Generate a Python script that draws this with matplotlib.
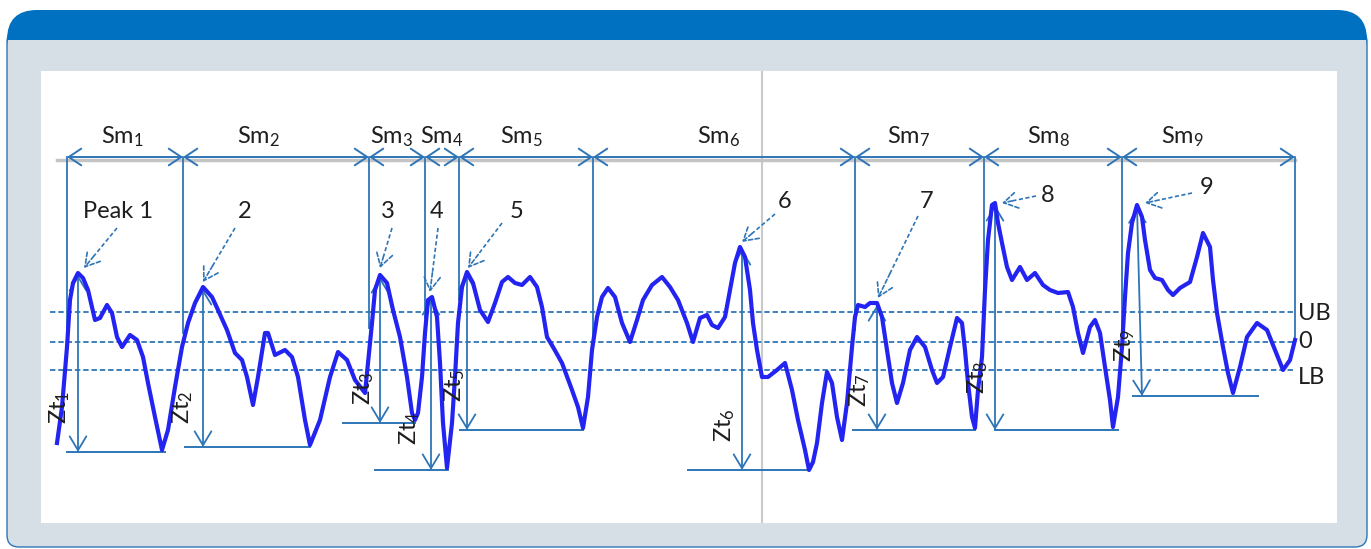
import matplotlib.pyplot as plt
from matplotlib.patches import FancyBboxPatch, Rectangle

plt.rcParams['font.family'] = ['Lato', 'DejaVu Sans']
plt.rcParams['mathtext.default'] = 'regular'

# ---------------------------------------------------------------
# DATA (units = picture position / depth)
# ---------------------------------------------------------------
profile_x = [57, 62, 67, 70, 73, 78, 83, 88, 95, 100, 107, 112, 117, 122, 130, 137,
             143, 148, 155, 162, 168, 175, 182, 188, 195, 203, 212, 218, 227, 235,
             242, 247, 253, 258, 265, 268, 275, 285, 292, 298, 305, 310, 320, 330,
             338, 347, 355, 365, 368, 372, 375, 380, 387, 393, 400, 407, 412, 415,
             418, 422, 425, 428, 432, 437, 440, 443, 447, 449, 452, 455, 458, 462,
             467, 473, 480, 488, 495, 502, 508, 515, 522, 530, 537, 542, 547, 553,
             562, 572, 578, 583, 588, 592, 597, 602, 608, 615, 622, 630, 637, 643,
             652, 662, 670, 678, 687, 693, 700, 707, 712, 718, 725, 730, 735, 740,
             745, 750, 753, 757, 762, 768, 777, 785, 792, 798, 805, 809, 813, 817,
             822, 827, 832, 837, 842, 847, 852, 855, 858, 865, 870, 877, 882, 887,
             892, 897, 903, 910, 917, 925, 932, 937, 943, 950, 957, 962, 965, 968,
             972, 975, 978, 982, 985, 988, 992, 995, 998, 1002, 1007, 1012, 1020,
             1027, 1035, 1043, 1050, 1058, 1068, 1073, 1078, 1083, 1090, 1095,
             1100, 1105, 1110, 1113, 1118, 1122, 1125, 1128, 1132, 1137, 1142,
             1145, 1150, 1155, 1162, 1168, 1173, 1180, 1190, 1197, 1203, 1210,
             1213, 1217, 1223, 1228, 1233, 1240, 1247, 1257, 1267, 1275, 1283,
             1290, 1295]
profile_y = [443, 407, 347, 300, 283, 273, 278, 290, 320, 318, 305, 313, 337, 347, 335, 340,
             357, 383, 417, 450, 430, 387, 347, 323, 303, 287, 297, 310, 330, 353,
             360, 377, 405, 377, 333, 333, 355, 350, 357, 377, 420, 445, 420, 377,
             352, 360, 380, 393, 363, 323, 290, 275, 283, 310, 337, 377, 413, 420,
             413, 377, 333, 300, 297, 317, 363, 423, 468, 450, 423, 377, 323, 287,
             272, 283, 310, 322, 303, 282, 277, 283, 285, 277, 287, 307, 337, 347,
             363, 390, 407, 428, 397, 350, 317, 297, 288, 297, 323, 342, 320, 300,
             285, 277, 287, 300, 323, 342, 318, 315, 325, 328, 317, 290, 263, 247,
             257, 290, 323, 350, 377, 377, 370, 363, 390, 420, 450, 470, 462, 443,
             403, 372, 383, 417, 440, 403, 347, 317, 305, 307, 303, 303, 317, 350,
             383, 403, 383, 350, 337, 347, 370, 383, 377, 347, 318, 323, 350, 383,
             417, 428, 390, 357, 290, 240, 205, 203, 223, 243, 267, 280, 267,
             280, 273, 285, 290, 293, 292, 307, 333, 353, 327, 320,
             333, 367, 400, 427, 397, 347, 297, 253, 223, 205, 217,
             240, 270, 278, 280, 290, 295, 288, 282, 257, 233, 247,
             280, 313, 347, 373, 393, 367, 337, 323, 330, 350, 370,
             360, 340]

band_levels = [312, 342, 370]
band_names = ["UB", "0", "LB"]
band_label_y = [313, 342, 378]

sm_bounds = [67, 183, 369, 425, 459, 593, 855, 984, 1122, 1295]
sm_bound_bottom = [343, 333, 328, 318, 300, 345, 330, 320, 337, 338]
sm_label_x = [122, 259, 392, 442, 521, 719, 909, 1049, 1182]

peak_names = ["Peak 1", "2", "3", "4", "5", "6", "7", "8", "9"]
peak_label_x = [118, 245, 388, 437, 517, 785, 927, 1048, 1207]
peak_label_y = [212, 212, 212, 212, 212, 201, 201, 195, 188]
peak_from_x = [117, 235, 392, 438, 502, 775, 918, 1036, 1192]
peak_from_y = [228, 228, 228, 228, 223, 214, 216, 196, 193]
peak_tip_x = [84, 203, 380, 430, 468, 742, 878, 1002, 1145]
peak_tip_y = [268, 282, 268, 292, 268, 242, 298, 203, 203]

zt_top_x = [78, 203, 380, 431, 467, 742, 877, 995, 1137]
zt_top_y = [275, 289, 277, 299, 274, 249, 305, 205, 207]
zt_bot_x = [78, 203, 380, 431, 467, 742, 877, 995, 1142]
zt_bot_y = [452, 447, 423, 470, 430, 470, 430, 430, 396]
zt_base_left = [67, 185, 343, 375, 460, 688, 853, 995, 1133]
zt_base_right = [165, 310, 415, 448, 583, 808, 975, 1118, 1258]
zt_label_x = [60, 183, 364, 410, 455, 725, 860, 978, 1125]
zt_label_y = [407, 407, 388, 428, 385, 425, 390, 377, 345]

# ---------------------------------------------------------------
# STYLE
# ---------------------------------------------------------------
HEADER = "#0070C0"
PANEL = "#D6DEE6"
ANNOT = "#2E75B6"
CURVE = "#2323F2"
TEXT = "#1E1E1E"
FS = 17

fig = plt.figure(figsize=(13.71, 5.49), dpi=100)

# frame (panel with blue header)
bg = fig.add_axes([0, 0, 1, 1])
bg.set_xlim(0, 1371)
bg.set_ylim(549, 0)
bg.axis("off")
bg.add_patch(FancyBboxPatch((7, 30), 1360, 517, boxstyle="round,pad=0,rounding_size=12",
                            facecolor=PANEL, edgecolor=ANNOT, lw=1.0, zorder=1))
bg.add_patch(FancyBboxPatch((7, 10), 1360, 55, boxstyle="round,pad=0,rounding_size=30",
                            facecolor=HEADER, edgecolor="none", zorder=2))
bg.add_patch(Rectangle((7.6, 40), 1358.8, 30, facecolor=PANEL, edgecolor="none", zorder=3))

# plot area
W0, W1, H0, H1 = 41, 1337, 71, 523
ax = fig.add_axes([W0 / 1371, 1 - H1 / 549, (W1 - W0) / 1371, (H1 - H0) / 549])
ax.set_xlim(W0, W1)
ax.set_ylim(H1, H0)
ax.set_facecolor("white")
ax.set_xticks([])
ax.set_yticks([])
for s in ax.spines.values():
    s.set_visible(False)

# grey centre line
ax.axvline(762, color="#C9C9C9", lw=1.5, zorder=1)

# band lines
for lvl, name, ly in zip(band_levels, band_names, band_label_y):
    ax.plot([50, 1295], [lvl, lvl], color=ANNOT, lw=1.3, ls=(0, (3, 1.6)), zorder=2)
    ax.text(1298, ly, name, color=TEXT, fontsize=FS, va="center", ha="left")

# Sm spacing arrows
ax.plot([57, 1295], [160, 160], color="#C4C4C4", lw=2.5, zorder=1)
for xb, yb in zip(sm_bounds, sm_bound_bottom):
    ax.plot([xb, xb], [157, yb], color=ANNOT, lw=1.3, zorder=2)
for i in range(len(sm_bounds) - 1):
    ax.annotate("", xy=(sm_bounds[i + 1], 157), xytext=(sm_bounds[i], 157),
                arrowprops=dict(arrowstyle="<->,head_length=0.9,head_width=0.6",
                                color=ANNOT, lw=1.4, shrinkA=0, shrinkB=0,
                                mutation_scale=10), zorder=3)
    ax.text(sm_label_x[i], 137, "Sm$_{%d}$" % (i + 1), color=TEXT, fontsize=FS,
            ha="center", va="center")

# Zt heights
for i in range(len(zt_top_x)):
    ax.plot([zt_base_left[i], zt_base_right[i]], [zt_bot_y[i], zt_bot_y[i]],
            color=ANNOT, lw=1.4, zorder=2)
    ax.annotate("", xy=(zt_bot_x[i], zt_bot_y[i]), xytext=(zt_top_x[i], zt_top_y[i]),
                arrowprops=dict(arrowstyle="<->,head_length=1.0,head_width=0.6",
                                color=ANNOT, lw=1.3, shrinkA=0, shrinkB=0,
                                mutation_scale=10), zorder=2)
    ax.text(zt_label_x[i], zt_label_y[i], "Zt$_{%d}$" % (i + 1), color=TEXT,
            fontsize=FS, rotation=90, ha="center", va="center", zorder=5)

# profile
ax.plot(profile_x, profile_y, color=CURVE, lw=3.0, solid_joinstyle="round", zorder=4)

# peak call-outs
for i in range(len(peak_names)):
    fx, fy = peak_from_x[i], peak_from_y[i]
    tx, ty = peak_tip_x[i], peak_tip_y[i]
    mx, my = tx + (fx - tx) * 0.3, ty + (fy - ty) * 0.3
    ax.plot([fx, mx], [fy, my], color=ANNOT, lw=1.2, ls=(0, (2.5, 1.5)), zorder=5)
    ax.annotate("", xy=(tx, ty), xytext=(mx, my),
                arrowprops=dict(arrowstyle="->,head_length=1.0,head_width=0.6",
                                color=ANNOT, lw=1.2, ls=(0, (2.5, 1.5)),
                                shrinkA=0, shrinkB=0, mutation_scale=10), zorder=5)
    ax.text(peak_label_x[i], peak_label_y[i], peak_names[i], color=TEXT, fontsize=FS,
            ha="center", va="center")

fig.savefig("out.png", dpi=100)
